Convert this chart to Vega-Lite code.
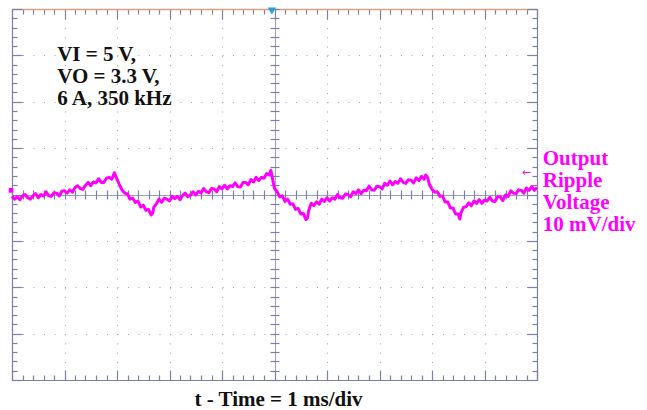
{
  "$schema": "https://vega.github.io/schema/vega-lite/v6.json",
  "width": 525,
  "height": 371,
  "autosize": {"type": "none"},
  "padding": {"left": 12, "top": 9, "right": 110, "bottom": 30},
  "background": "white",
  "config": {"view": {"stroke": null}},
  "data": {"values": [
    {"t":0.00,"v":-0.4},{"t":0.05,"v":-1.0},{"t":0.10,"v":-0.5},{"t":0.15,"v":-1.1},{"t":0.20,"v":-0.3},{"t":0.25,"v":0.0},{"t":0.30,"v":-0.7},{"t":0.35,"v":-1.0},{"t":0.40,"v":-0.3},{"t":0.45,"v":0.2},
    {"t":0.50,"v":-0.7},{"t":0.55,"v":0.0},{"t":0.60,"v":-0.3},{"t":0.65,"v":0.6},{"t":0.70,"v":-0.3},{"t":0.75,"v":-0.4},{"t":0.80,"v":0.4},{"t":0.85,"v":0.3},{"t":0.90,"v":-0.3},{"t":0.95,"v":0.7},
    {"t":1.00,"v":0.8},{"t":1.05,"v":0.3},{"t":1.10,"v":1.0},{"t":1.15,"v":0.5},{"t":1.20,"v":1.5},{"t":1.25,"v":1.9},{"t":1.30,"v":1.3},{"t":1.35,"v":1.1},{"t":1.40,"v":2.0},{"t":1.45,"v":2.6},
    {"t":1.50,"v":1.9},{"t":1.55,"v":2.7},{"t":1.60,"v":2.5},{"t":1.65,"v":3.4},{"t":1.70,"v":2.6},{"t":1.75,"v":2.6},{"t":1.80,"v":3.5},{"t":1.85,"v":3.7},{"t":1.90,"v":3.3},{"t":1.95,"v":4.7},
    {"t":2.00,"v":3.3},{"t":2.05,"v":2.0},{"t":2.10,"v":0.9},{"t":2.15,"v":0.3},{"t":2.20,"v":0.1},{"t":2.25,"v":-1.0},{"t":2.30,"v":-0.8},{"t":2.35,"v":-1.7},{"t":2.40,"v":-1.4},{"t":2.45,"v":-2.7},
    {"t":2.50,"v":-2.3},{"t":2.55,"v":-3.4},{"t":2.60,"v":-3.2},{"t":2.65,"v":-4.4},{"t":2.68,"v":-4.0},{"t":2.70,"v":-2.8},{"t":2.75,"v":-2.0},{"t":2.80,"v":-1.0},{"t":2.85,"v":-1.7},{"t":2.90,"v":-0.8},
    {"t":2.95,"v":-1.0},{"t":3.00,"v":-1.4},{"t":3.05,"v":-0.4},{"t":3.10,"v":-0.9},{"t":3.15,"v":-0.4},{"t":3.20,"v":-1.1},{"t":3.25,"v":-0.2},{"t":3.30,"v":0.3},{"t":3.35,"v":-0.5},{"t":3.40,"v":-0.1},
    {"t":3.45,"v":0.6},{"t":3.50,"v":-0.1},{"t":3.55,"v":0.7},{"t":3.60,"v":0.3},{"t":3.65,"v":1.3},{"t":3.70,"v":0.6},{"t":3.75,"v":0.4},{"t":3.80,"v":1.3},{"t":3.85,"v":1.2},{"t":3.90,"v":0.6},
    {"t":3.95,"v":1.7},{"t":4.00,"v":1.2},{"t":4.05,"v":2.0},{"t":4.10,"v":1.2},{"t":4.15,"v":1.9},{"t":4.20,"v":1.7},{"t":4.25,"v":2.5},{"t":4.30,"v":1.7},{"t":4.35,"v":1.6},{"t":4.40,"v":2.6},
    {"t":4.45,"v":2.6},{"t":4.50,"v":2.1},{"t":4.55,"v":3.2},{"t":4.60,"v":2.7},{"t":4.65,"v":3.7},{"t":4.70,"v":3.0},{"t":4.75,"v":3.7},{"t":4.80,"v":3.5},{"t":4.85,"v":4.5},{"t":4.90,"v":4.2},
    {"t":4.93,"v":5.2},{"t":4.97,"v":3.0},{"t":5.00,"v":1.3},{"t":5.05,"v":0.6},{"t":5.10,"v":-0.5},{"t":5.15,"v":-0.3},{"t":5.20,"v":-1.5},{"t":5.25,"v":-1.0},{"t":5.30,"v":-2.1},{"t":5.35,"v":-2.0},
    {"t":5.40,"v":-3.2},{"t":5.45,"v":-3.0},{"t":5.50,"v":-4.2},{"t":5.55,"v":-4.1},{"t":5.60,"v":-5.4},{"t":5.63,"v":-5.0},{"t":5.65,"v":-3.5},{"t":5.70,"v":-1.9},{"t":5.75,"v":-2.4},{"t":5.80,"v":-1.6},
    {"t":5.85,"v":-2.1},{"t":5.90,"v":-1.0},{"t":5.95,"v":-1.5},{"t":6.00,"v":-0.7},{"t":6.05,"v":-1.4},{"t":6.10,"v":-0.7},{"t":6.15,"v":-1.0},{"t":6.20,"v":0.0},{"t":6.25,"v":-0.7},{"t":6.30,"v":-0.8},
    {"t":6.35,"v":0.1},{"t":6.40,"v":0.0},{"t":6.45,"v":-0.5},{"t":6.50,"v":0.6},{"t":6.55,"v":0.2},{"t":6.60,"v":1.0},{"t":6.65,"v":0.2},{"t":6.70,"v":0.9},{"t":6.75,"v":0.8},{"t":6.80,"v":1.8},
    {"t":6.85,"v":1.0},{"t":6.90,"v":0.9},{"t":6.95,"v":1.8},{"t":7.00,"v":1.7},{"t":7.05,"v":1.2},{"t":7.10,"v":2.4},{"t":7.15,"v":2.0},{"t":7.20,"v":2.9},{"t":7.25,"v":2.1},{"t":7.30,"v":2.8},
    {"t":7.35,"v":2.4},{"t":7.40,"v":3.4},{"t":7.45,"v":2.6},{"t":7.50,"v":2.4},{"t":7.55,"v":3.2},{"t":7.60,"v":3.1},{"t":7.65,"v":2.5},{"t":7.70,"v":3.6},{"t":7.75,"v":3.0},{"t":7.80,"v":3.9},
    {"t":7.85,"v":3.3},{"t":7.88,"v":4.2},{"t":7.92,"v":3.6},{"t":7.95,"v":2.2},{"t":8.00,"v":1.1},{"t":8.05,"v":0.5},{"t":8.10,"v":0.6},{"t":8.15,"v":-0.4},{"t":8.20,"v":-0.3},{"t":8.25,"v":-1.6},
    {"t":8.30,"v":-1.6},{"t":8.35,"v":-2.9},{"t":8.40,"v":-2.9},{"t":8.45,"v":-4.2},{"t":8.50,"v":-4.2},{"t":8.53,"v":-5.3},{"t":8.55,"v":-4.0},{"t":8.60,"v":-2.8},{"t":8.65,"v":-2.6},{"t":8.70,"v":-1.8},
    {"t":8.75,"v":-2.4},{"t":8.80,"v":-1.4},{"t":8.85,"v":-1.9},{"t":8.90,"v":-1.1},{"t":8.95,"v":-1.9},{"t":9.00,"v":-1.2},{"t":9.05,"v":-1.4},{"t":9.10,"v":-0.6},{"t":9.15,"v":-1.4},{"t":9.20,"v":-1.5},
    {"t":9.25,"v":-0.5},{"t":9.30,"v":-0.5},{"t":9.35,"v":-1.3},{"t":9.40,"v":-0.1},{"t":9.45,"v":-0.4},{"t":9.50,"v":0.8},{"t":9.55,"v":0.3},{"t":9.60,"v":0.2},{"t":9.65,"v":1.0},{"t":9.70,"v":0.9},
    {"t":9.75,"v":0.3},{"t":9.80,"v":1.4},{"t":9.85,"v":0.9},{"t":9.90,"v":1.7},{"t":9.95,"v":0.9},{"t":10.00,"v":1.5}
  ]},
  "resolve": {"axis": {"x": "independent", "y": "independent"}},
  "layer": [
    {
      "mark": {"type": "line", "color": "#ff00ff", "strokeWidth": 3, "strokeJoin": "round"},
      "encoding": {
        "x": {"field": "t", "type": "quantitative",
          "scale": {"domain": [0, 10], "nice": false, "zero": false},
          "axis": {"orient": "bottom",
            "values": [0,0.2,0.4,0.6,0.8,1,1.2,1.4,1.6,1.8,2,2.2,2.4,2.6,2.8,3,3.2,3.4,3.6,3.8,4,4.2,4.4,4.6,4.8,5,5.2,5.4,5.6,5.8,6,6.2,6.4,6.6,6.8,7,7.2,7.4,7.6,7.8,8,8.2,8.4,8.6,8.8,9,9.2,9.4,9.6,9.8,10],
            "labels": false, "domain": true, "domainColor": "#7b80a8", "domainWidth": 1.2,
            "ticks": true, "tickColor": "#7b80a8", "tickWidth": 1.2,
            "tickSize": {"condition": {"test": "abs(datum.value - round(datum.value)) < 0.01", "value": -10}, "value": -5},
            "grid": true, "gridWidth": 1,
            "gridColor": {"condition": {"test": "abs(datum.value - 5) < 0.01", "value": "#7b80a8"}, "value": "#9ca0c0"},
            "gridDash": {"condition": {"test": "abs(datum.value - 5) < 0.01", "value": [1, 0]}, "value": [1, 8.275]},
            "gridOpacity": {"condition": {"test": "datum.value > 0.5 && datum.value < 9.5 && abs(datum.value - round(datum.value)) < 0.01", "value": 1}, "value": 0},
            "title": "t - Time = 1 ms/div", "titleFont": "Liberation Serif", "titleFontSize": 21, "titleFontWeight": "bold", "titleColor": "#111111",
            "titleBaseline": "alphabetic", "titlePadding": 25, "titleX": 266
          }},
        "y": {"field": "v", "type": "quantitative",
          "scale": {"domain": [-40, 40], "nice": false, "zero": false},
          "axis": {"orient": "left",
            "values": [-40,-38,-36,-34,-32,-30,-28,-26,-24,-22,-20,-18,-16,-14,-12,-10,-8,-6,-4,-2,0,2,4,6,8,10,12,14,16,18,20,22,24,26,28,30,32,34,36,38,40],
            "labels": false, "domain": true, "domainColor": "#7b80a8", "domainWidth": 1.2,
            "ticks": true, "tickColor": "#7b80a8", "tickWidth": 1.2,
            "tickSize": {"condition": {"test": "abs(datum.value/10 - round(datum.value/10)) < 0.01", "value": -10}, "value": -5},
            "grid": true, "gridWidth": 1,
            "gridColor": {"condition": {"test": "abs(datum.value) < 0.01", "value": "#7b80a8"}, "value": "#9ca0c0"},
            "gridDash": {"condition": {"test": "abs(datum.value) < 0.01", "value": [1, 0]}, "value": [1, 9.5]},
            "gridOpacity": {"condition": {"test": "abs(datum.value) < 35 && abs(datum.value/10 - round(datum.value/10)) < 0.01", "value": 1}, "value": 0},
            "title": null
          }}
      }
    },
    {
      "mark": {"type": "point", "opacity": 0},
      "encoding": {
        "x": {"field": "t", "type": "quantitative",
          "axis": {"orient": "top",
            "values": [0,0.2,0.4,0.6,0.8,1,1.2,1.4,1.6,1.8,2,2.2,2.4,2.6,2.8,3,3.2,3.4,3.6,3.8,4,4.2,4.4,4.6,4.8,5,5.2,5.4,5.6,5.8,6,6.2,6.4,6.6,6.8,7,7.2,7.4,7.6,7.8,8,8.2,8.4,8.6,8.8,9,9.2,9.4,9.6,9.8,10],
            "labels": false, "domain": true, "domainColor": "#d9a27e", "domainWidth": 1.5,
            "ticks": true, "tickColor": "#7b80a8", "tickWidth": 1.2,
            "tickSize": {"condition": {"test": "abs(datum.value - round(datum.value)) < 0.01", "value": -10}, "value": -5},
            "grid": false, "title": null}},
        "y": {"field": "v", "type": "quantitative",
          "axis": {"orient": "right",
            "values": [-40,-38,-36,-34,-32,-30,-28,-26,-24,-22,-20,-18,-16,-14,-12,-10,-8,-6,-4,-2,0,2,4,6,8,10,12,14,16,18,20,22,24,26,28,30,32,34,36,38,40],
            "labels": false, "domain": true, "domainColor": "#7b80a8", "domainWidth": 1.2,
            "ticks": true, "tickColor": "#7b80a8", "tickWidth": 1.2,
            "tickSize": {"condition": {"test": "abs(datum.value/10 - round(datum.value/10)) < 0.01", "value": -10}, "value": -5},
            "grid": false, "title": null}}
      }
    },
    {
      "mark": {"type": "point", "opacity": 0},
      "encoding": {
        "x": {"field": "t", "type": "quantitative",
          "axis": {"orient": "bottom", "offset": -190,
            "values": [0,0.2,0.4,0.6,0.8,1,1.2,1.4,1.6,1.8,2,2.2,2.4,2.6,2.8,3,3.2,3.4,3.6,3.8,4,4.2,4.4,4.6,4.8,5,5.2,5.4,5.6,5.8,6,6.2,6.4,6.6,6.8,7,7.2,7.4,7.6,7.8,8,8.2,8.4,8.6,8.8,9,9.2,9.4,9.6,9.8,10],
            "labels": false, "domain": false,
            "ticks": true, "tickColor": "#7b80a8", "tickWidth": 1.2, "tickSize": 9,
            "grid": false, "title": null}},
        "y": {"field": "v", "type": "quantitative",
          "axis": {"orient": "left", "offset": -267,
            "values": [-40,-38,-36,-34,-32,-30,-28,-26,-24,-22,-20,-18,-16,-14,-12,-10,-8,-6,-4,-2,0,2,4,6,8,10,12,14,16,18,20,22,24,26,28,30,32,34,36,38,40],
            "labels": false, "domain": false,
            "ticks": true, "tickColor": "#7b80a8", "tickWidth": 1.2, "tickSize": 9,
            "grid": false, "title": null}}
      }
    },
    {
      "data": {"values": [{}]},
      "mark": {"type": "point", "shape": "triangle-down", "size": 70, "filled": true, "color": "#2a9fd8", "opacity": 1, "yOffset": 2},
      "encoding": {"x": {"datum": 4.95, "type": "quantitative", "axis": null}, "y": {"datum": 40, "type": "quantitative", "axis": null}}
    },
    {
      "data": {"values": [{}]},
      "mark": {"type": "point", "shape": "square", "size": 22, "filled": true, "color": "#ff00ff", "opacity": 1, "xOffset": -1},
      "encoding": {"x": {"datum": 0, "type": "quantitative", "axis": null}, "y": {"datum": 0.9, "type": "quantitative", "axis": null}}
    },
    {
      "data": {"values": [{}]},
      "mark": {"type": "text", "align": "left", "baseline": "alphabetic", "font": "Liberation Serif", "fontSize": 21, "fontWeight": "bold", "color": "#111111", "lineHeight": 22},
      "encoding": {"x": {"datum": 0.86, "type": "quantitative", "axis": null}, "y": {"datum": 28.8, "type": "quantitative", "axis": null},
        "text": {"value": ["VI = 5 V,", "VO = 3.3 V,", "6 A, 350 kHz"]}}
    },
    {
      "data": {"values": [{}]},
      "mark": {"type": "text", "align": "left", "baseline": "alphabetic", "font": "Liberation Serif", "fontSize": 21, "fontWeight": "bold", "color": "#ff00ff", "lineHeight": 22},
      "encoding": {"x": {"datum": 10.11, "type": "quantitative", "axis": null}, "y": {"datum": 6.4, "type": "quantitative", "axis": null},
        "text": {"value": ["Output", "Ripple", "Voltage", "10 mV/div"]}}
    },
    {
      "data": {"values": [{}]},
      "mark": {"type": "text", "align": "left", "baseline": "middle", "font": "DejaVu Sans", "fontSize": 11, "color": "#ff00ff"},
      "encoding": {"x": {"datum": 9.71, "type": "quantitative", "axis": null}, "y": {"datum": 4.6, "type": "quantitative", "axis": null},
        "text": {"value": "←"}}
    }
  ]
}
